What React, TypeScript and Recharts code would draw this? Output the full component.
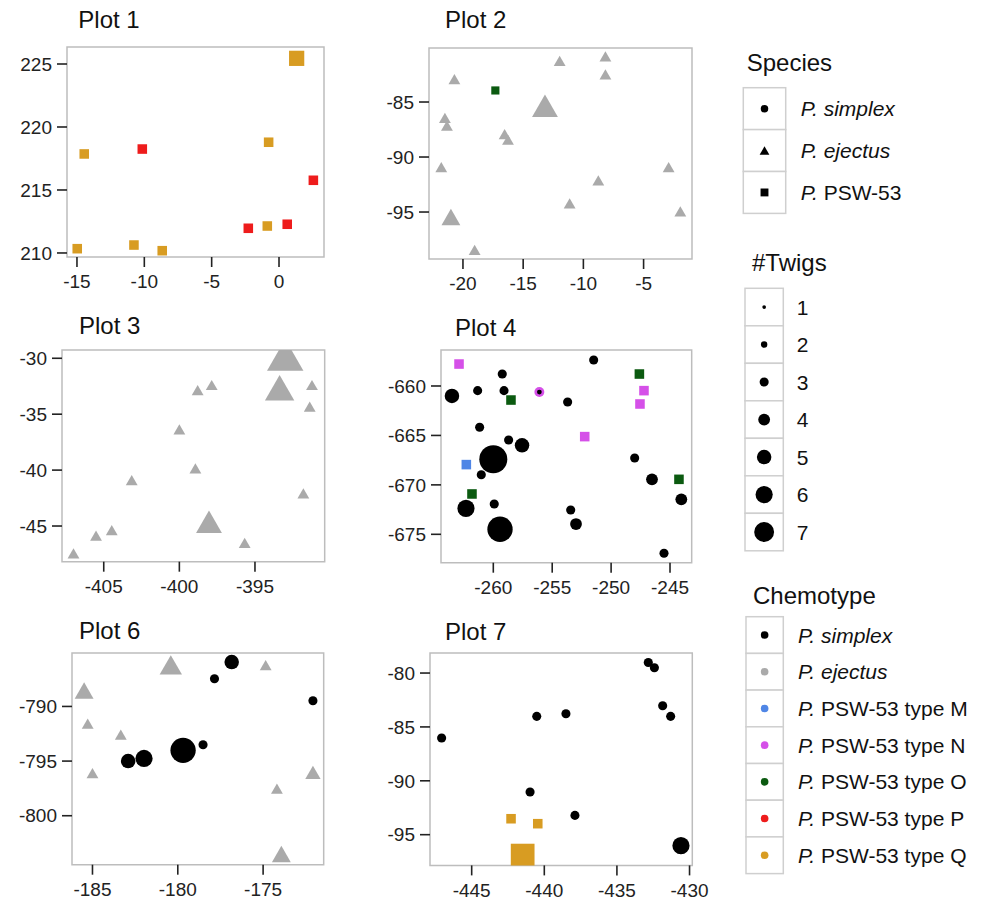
import React from 'react';
import { ScatterChart, Scatter, XAxis, YAxis, ReferenceArea } from 'recharts';

type Pt = { x: number; y: number; sp: 'S' | 'E' | 'P'; chem: string; twigs: number };

const COLORS: Record<string, string> = {
  simplex: '#000000',
  ejectus: '#aaaaaa',
  M: '#4f86e6',
  N: '#d550e8',
  O: '#0b5a10',
  P: '#ee1c1c',
  Q: '#d89c22',
};

// ---------- data ----------
const plot1Points: Pt[] = [
  { x: 1.31, y: 225.45, sp: 'P', chem: 'Q', twigs: 5 },
  { x: -14.46, y: 217.86, sp: 'P', chem: 'Q', twigs: 3 },
  { x: -10.15, y: 218.25, sp: 'P', chem: 'P', twigs: 3 },
  { x: -0.77, y: 218.79, sp: 'P', chem: 'Q', twigs: 3 },
  { x: 2.55, y: 215.77, sp: 'P', chem: 'P', twigs: 3 },
  { x: -2.28, y: 211.96, sp: 'P', chem: 'P', twigs: 3 },
  { x: -0.87, y: 212.14, sp: 'P', chem: 'Q', twigs: 3 },
  { x: 0.61, y: 212.28, sp: 'P', chem: 'P', twigs: 3 },
  { x: -14.98, y: 210.34, sp: 'P', chem: 'Q', twigs: 3 },
  { x: -10.77, y: 210.63, sp: 'P', chem: 'Q', twigs: 3 },
  { x: -8.67, y: 210.18, sp: 'P', chem: 'Q', twigs: 3 },
];

const plot2Points: Pt[] = [
  { x: -11.97, y: -81.25, sp: 'E', chem: 'ejectus', twigs: 3 },
  { x: -8.17, y: -80.85, sp: 'E', chem: 'ejectus', twigs: 3 },
  { x: -8.17, y: -82.49, sp: 'E', chem: 'ejectus', twigs: 3 },
  { x: -20.71, y: -82.91, sp: 'E', chem: 'ejectus', twigs: 3 },
  { x: -13.19, y: -85.34, sp: 'E', chem: 'ejectus', twigs: 7 },
  { x: -21.5, y: -86.45, sp: 'E', chem: 'ejectus', twigs: 3 },
  { x: -21.33, y: -87.15, sp: 'E', chem: 'ejectus', twigs: 3 },
  { x: -16.54, y: -87.91, sp: 'E', chem: 'ejectus', twigs: 3 },
  { x: -16.26, y: -88.43, sp: 'E', chem: 'ejectus', twigs: 3 },
  { x: -21.8, y: -90.91, sp: 'E', chem: 'ejectus', twigs: 3 },
  { x: -2.92, y: -90.91, sp: 'E', chem: 'ejectus', twigs: 3 },
  { x: -8.76, y: -92.12, sp: 'E', chem: 'ejectus', twigs: 3 },
  { x: -11.14, y: -94.21, sp: 'E', chem: 'ejectus', twigs: 3 },
  { x: -1.95, y: -94.94, sp: 'E', chem: 'ejectus', twigs: 3 },
  { x: -21.0, y: -95.45, sp: 'E', chem: 'ejectus', twigs: 5 },
  { x: -19.03, y: -98.43, sp: 'E', chem: 'ejectus', twigs: 3 },
  { x: -17.31, y: -83.95, sp: 'P', chem: 'O', twigs: 2.5 },
];

const plot3Points: Pt[] = [
  { x: -393.0, y: -29.7, sp: 'E', chem: 'ejectus', twigs: 10 },
  { x: -393.37, y: -32.64, sp: 'E', chem: 'ejectus', twigs: 8 },
  { x: -391.23, y: -32.39, sp: 'E', chem: 'ejectus', twigs: 3 },
  { x: -391.38, y: -34.33, sp: 'E', chem: 'ejectus', twigs: 3 },
  { x: -397.86, y: -32.39, sp: 'E', chem: 'ejectus', twigs: 3 },
  { x: -398.79, y: -32.84, sp: 'E', chem: 'ejectus', twigs: 3 },
  { x: -400.0, y: -36.35, sp: 'E', chem: 'ejectus', twigs: 3 },
  { x: -398.94, y: -39.84, sp: 'E', chem: 'ejectus', twigs: 3 },
  { x: -403.15, y: -40.89, sp: 'E', chem: 'ejectus', twigs: 3 },
  { x: -391.8, y: -42.08, sp: 'E', chem: 'ejectus', twigs: 3 },
  { x: -398.04, y: -44.62, sp: 'E', chem: 'ejectus', twigs: 7 },
  { x: -404.47, y: -45.36, sp: 'E', chem: 'ejectus', twigs: 3 },
  { x: -405.51, y: -45.87, sp: 'E', chem: 'ejectus', twigs: 3 },
  { x: -395.68, y: -46.5, sp: 'E', chem: 'ejectus', twigs: 3 },
  { x: -407.0, y: -47.45, sp: 'E', chem: 'ejectus', twigs: 3 },
];

const plot4Points: Pt[] = [
  { x: -251.48, y: -657.37, sp: 'S', chem: 'simplex', twigs: 3 },
  { x: -259.24, y: -658.79, sp: 'S', chem: 'simplex', twigs: 3 },
  { x: -263.51, y: -661.01, sp: 'S', chem: 'simplex', twigs: 5 },
  { x: -261.33, y: -660.47, sp: 'S', chem: 'simplex', twigs: 3 },
  { x: -259.09, y: -660.47, sp: 'S', chem: 'simplex', twigs: 3 },
  { x: -253.69, y: -661.62, sp: 'S', chem: 'simplex', twigs: 3 },
  { x: -261.16, y: -664.18, sp: 'S', chem: 'simplex', twigs: 3 },
  { x: -258.7, y: -665.46, sp: 'S', chem: 'simplex', twigs: 3 },
  { x: -257.56, y: -666.0, sp: 'S', chem: 'simplex', twigs: 5 },
  { x: -260.0, y: -667.41, sp: 'S', chem: 'simplex', twigs: 10 },
  { x: -248.0, y: -667.28, sp: 'S', chem: 'simplex', twigs: 3 },
  { x: -261.02, y: -668.97, sp: 'S', chem: 'simplex', twigs: 3 },
  { x: -246.53, y: -669.44, sp: 'S', chem: 'simplex', twigs: 4 },
  { x: -244.04, y: -671.46, sp: 'S', chem: 'simplex', twigs: 4 },
  { x: -259.92, y: -671.93, sp: 'S', chem: 'simplex', twigs: 3 },
  { x: -262.32, y: -672.37, sp: 'S', chem: 'simplex', twigs: 6 },
  { x: -253.43, y: -672.54, sp: 'S', chem: 'simplex', twigs: 3 },
  { x: -252.98, y: -673.96, sp: 'S', chem: 'simplex', twigs: 4 },
  { x: -259.43, y: -674.49, sp: 'S', chem: 'simplex', twigs: 9 },
  { x: -245.51, y: -676.92, sp: 'S', chem: 'simplex', twigs: 3 },
  { x: -256.09, y: -660.61, sp: 'S', chem: 'N', twigs: 3.3 },
  { x: -256.09, y: -660.61, sp: 'S', chem: 'simplex', twigs: 1.4 },
  { x: -262.91, y: -657.78, sp: 'P', chem: 'N', twigs: 3 },
  { x: -247.6, y: -658.79, sp: 'P', chem: 'O', twigs: 3 },
  { x: -258.5, y: -661.42, sp: 'P', chem: 'O', twigs: 3 },
  { x: -247.21, y: -660.47, sp: 'P', chem: 'N', twigs: 3 },
  { x: -247.55, y: -661.82, sp: 'P', chem: 'N', twigs: 3 },
  { x: -252.24, y: -665.12, sp: 'P', chem: 'N', twigs: 3 },
  { x: -262.29, y: -667.95, sp: 'P', chem: 'M', twigs: 3 },
  { x: -244.24, y: -669.44, sp: 'P', chem: 'O', twigs: 3 },
  { x: -261.81, y: -670.92, sp: 'P', chem: 'O', twigs: 3 },
];

const plot6Points: Pt[] = [
  { x: -180.41, y: -786.2, sp: 'E', chem: 'ejectus', twigs: 6 },
  { x: -174.85, y: -786.21, sp: 'E', chem: 'ejectus', twigs: 3 },
  { x: -185.49, y: -788.54, sp: 'E', chem: 'ejectus', twigs: 5 },
  { x: -185.28, y: -791.58, sp: 'E', chem: 'ejectus', twigs: 3 },
  { x: -183.34, y: -792.59, sp: 'E', chem: 'ejectus', twigs: 3 },
  { x: -185.0, y: -796.1, sp: 'E', chem: 'ejectus', twigs: 3 },
  { x: -172.08, y: -796.04, sp: 'E', chem: 'ejectus', twigs: 4 },
  { x: -174.19, y: -797.53, sp: 'E', chem: 'ejectus', twigs: 3 },
  { x: -173.93, y: -803.5, sp: 'E', chem: 'ejectus', twigs: 5 },
  { x: -176.84, y: -785.94, sp: 'S', chem: 'simplex', twigs: 5 },
  { x: -177.85, y: -787.46, sp: 'S', chem: 'simplex', twigs: 3 },
  { x: -172.08, y: -789.48, sp: 'S', chem: 'simplex', twigs: 3 },
  { x: -178.52, y: -793.5, sp: 'S', chem: 'simplex', twigs: 3 },
  { x: -179.69, y: -794.02, sp: 'S', chem: 'simplex', twigs: 9 },
  { x: -181.98, y: -794.76, sp: 'S', chem: 'simplex', twigs: 6 },
  { x: -182.91, y: -795.0, sp: 'S', chem: 'simplex', twigs: 5 },
];

const plot7Points: Pt[] = [
  { x: -432.84, y: -79.02, sp: 'S', chem: 'simplex', twigs: 3 },
  { x: -432.42, y: -79.51, sp: 'S', chem: 'simplex', twigs: 3 },
  { x: -431.85, y: -83.03, sp: 'S', chem: 'simplex', twigs: 3 },
  { x: -431.3, y: -84.02, sp: 'S', chem: 'simplex', twigs: 3 },
  { x: -440.52, y: -84.02, sp: 'S', chem: 'simplex', twigs: 3 },
  { x: -438.51, y: -83.78, sp: 'S', chem: 'simplex', twigs: 3 },
  { x: -447.07, y: -86.03, sp: 'S', chem: 'simplex', twigs: 3 },
  { x: -440.98, y: -91.04, sp: 'S', chem: 'simplex', twigs: 3 },
  { x: -437.89, y: -93.21, sp: 'S', chem: 'simplex', twigs: 3 },
  { x: -430.59, y: -96.02, sp: 'S', chem: 'simplex', twigs: 6 },
  { x: -442.29, y: -93.52, sp: 'P', chem: 'Q', twigs: 3 },
  { x: -440.45, y: -93.98, sp: 'P', chem: 'Q', twigs: 3 },
  { x: -441.49, y: -96.94, sp: 'P', chem: 'Q', twigs: 8 },
];

const plot1XTicks = [-15, -10, -5, 0];
const plot1YTicks = [210, 215, 220, 225];
const plot2XTicks = [-20, -15, -10, -5];
const plot2YTicks = [-95, -90, -85];
const plot3XTicks = [-405, -400, -395];
const plot3YTicks = [-45, -40, -35, -30];
const plot4XTicks = [-260, -255, -250, -245];
const plot4YTicks = [-675, -670, -665, -660];
const plot6XTicks = [-185, -180, -175];
const plot6YTicks = [-800, -795, -790];
const plot7XTicks = [-445, -440, -435, -430];
const plot7YTicks = [-95, -90, -85, -80];

const speciesLabels = [
  { it: 'P. simplex', rest: '' },
  { it: 'P. ejectus', rest: '' },
  { it: 'P.', rest: ' PSW-53' },
];
const speciesKeys: Array<'S' | 'E' | 'P'> = ['S', 'E', 'P'];
const twigLevels = [1, 2, 3, 4, 5, 6, 7];
const chemKeys = ['simplex', 'ejectus', 'M', 'N', 'O', 'P', 'Q'];
const chemLabels = [
  { it: 'P. simplex', rest: '' },
  { it: 'P. ejectus', rest: '' },
  { it: 'P.', rest: ' PSW-53 type M' },
  { it: 'P.', rest: ' PSW-53 type N' },
  { it: 'P.', rest: ' PSW-53 type O' },
  { it: 'P.', rest: ' PSW-53 type P' },
  { it: 'P.', rest: ' PSW-53 type Q' },
];

// ---------- drawing helpers ----------
const FONT = '"Liberation Sans", Arial, Helvetica, sans-serif';
const sizeOf = (t: number) => 2.7 * t + 1;

function glyph(sp: string, cx: number, cy: number, d: number, fill: string, key?: string) {
  if (sp === 'E') {
    const w = d * 1.3;
    const h = w * 0.866;
    return (
      <polygon
        key={key}
        points={`${cx},${cy - h / 2} ${cx + w / 2},${cy + h / 2} ${cx - w / 2},${cy + h / 2}`}
        fill={fill}
      />
    );
  }
  if (sp === 'P') {
    const s = d * 1.05;
    return <rect key={key} x={cx - s / 2} y={cy - s / 2} width={s} height={s} fill={fill} />;
  }
  return <circle key={key} cx={cx} cy={cy} r={d / 2} fill={fill} />;
}

function Marker(props: any) {
  const { cx, cy } = props;
  const p = props.payload ?? props;
  if (cx == null || cy == null || !p) return null;
  return glyph(p.sp, cx, cy, sizeOf(p.twigs), COLORS[p.chem]);
}

type Box = { l: number; t: number; r: number; b: number };

function Panel({
  box,
  data,
  xDomain,
  yDomain,
  xTicks,
  yTicks,
}: {
  box: Box;
  data: Pt[];
  xDomain: [number, number];
  yDomain: [number, number];
  xTicks: number[];
  yTicks: number[];
}) {
  const yw = 64;
  const xh = 44;
  const mt = 12;
  const mr = 24;
  const w = yw + (box.r - box.l) + mr;
  const h = mt + (box.b - box.t) + xh;
  const tickStyle = { fontSize: 19, fill: '#222', fontFamily: FONT };
  return (
    <div style={{ position: 'absolute', left: box.l - yw, top: box.t - mt }}>
      <ScatterChart width={w} height={h} margin={{ top: mt, right: mr, bottom: 0, left: 0 }}>
        <XAxis
          type="number"
          dataKey="x"
          domain={xDomain}
          ticks={xTicks}
          allowDataOverflow
          interval={0}
          height={xh}
          tickSize={10}
          tickMargin={8}
          axisLine={false}
          tickLine={{ stroke: '#222', strokeWidth: 1.6 }}
          tick={tickStyle}
        />
        <YAxis
          type="number"
          dataKey="y"
          domain={yDomain}
          ticks={yTicks}
          allowDataOverflow
          interval={0}
          width={yw}
          tickSize={10}
          tickMargin={5}
          axisLine={false}
          tickLine={{ stroke: '#222', strokeWidth: 1.6 }}
          tick={tickStyle}
        />
        <ReferenceArea
          x1={xDomain[0]}
          x2={xDomain[1]}
          y1={yDomain[0]}
          y2={yDomain[1]}
          fill="none"
          fillOpacity={0}
          stroke="#bdbdbd"
          strokeWidth={1.5}
          ifOverflow="visible"
        />
        <Scatter data={data} shape={(p: any) => <Marker {...p} />} isAnimationActive={false} />
      </ScatterChart>
    </div>
  );
}

function Label({ x, y, it, rest, size }: { x: number; y: number; it: string; rest: string; size: number }) {
  return (
    <text x={x} y={y} fontSize={size} fill="#111" fontFamily={FONT}>
      <tspan fontStyle="italic">{it}</tspan>
      {rest ? <tspan>{rest}</tspan> : null}
    </text>
  );
}

function KeyCells({ x, y, w, rowH, n }: { x: number; y: number; w: number; rowH: number; n: number }) {
  const cells = [];
  for (let i = 0; i < n; i++) {
    cells.push(
      <rect key={i} x={x} y={y + i * rowH} width={w} height={rowH} fill="#fff" stroke="#cfcfcf" strokeWidth={1.5} />
    );
  }
  return <g>{cells}</g>;
}

function Legends() {
  const sp = { x: 743.3, y: 87.7, w: 42.4, rowH: 41.9 };
  const tw = { x: 745, y: 288.3, w: 38.3, rowH: 37.5 };
  const ch = { x: 746, y: 616.7, w: 37.3, rowH: 36.7 };
  return (
    <svg width={987} height={904} style={{ position: 'absolute', left: 0, top: 0 }}>
      {/* plot titles */}
      <text x={78.3} y={28.3} fontSize={24} fontFamily={FONT} fill="#111">Plot 1</text>
      <text x={445} y={28.3} fontSize={24} fontFamily={FONT} fill="#111">Plot 2</text>
      <text x={79} y={334} fontSize={24} fontFamily={FONT} fill="#111">Plot 3</text>
      <text x={455} y={336} fontSize={24} fontFamily={FONT} fill="#111">Plot 4</text>
      <text x={79} y={638.5} fontSize={24} fontFamily={FONT} fill="#111">Plot 6</text>
      <text x={445} y={640} fontSize={24} fontFamily={FONT} fill="#111">Plot 7</text>

      {/* Species */}
      <text x={746.7} y={70.7} fontSize={24} fontFamily={FONT} fill="#111">Species</text>
      <KeyCells x={sp.x} y={sp.y} w={sp.w} rowH={sp.rowH} n={speciesKeys.length} />
      {speciesKeys.map((k, i) =>
        glyph(k, sp.x + sp.w / 2, sp.y + sp.rowH * (i + 0.5), 7.5, '#000', 'sg' + i)
      )}
      {speciesLabels.map((l, i) => (
        <Label key={'sl' + i} x={800.7} y={sp.y + sp.rowH * (i + 0.5) + 7.5} it={l.it} rest={l.rest} size={21} />
      ))}

      {/* Twigs */}
      <text x={752} y={270.5} fontSize={24} fontFamily={FONT} fill="#111">#Twigs</text>
      <KeyCells x={tw.x} y={tw.y} w={tw.w} rowH={tw.rowH} n={twigLevels.length} />
      {twigLevels.map((t, i) => (
        <circle key={'tc' + i} cx={tw.x + tw.w / 2} cy={tw.y + tw.rowH * (i + 0.5)} r={sizeOf(t) / 2} fill="#000" />
      ))}
      {twigLevels.map((t, i) => (
        <text key={'tl' + i} x={796.7} y={tw.y + tw.rowH * (i + 0.5) + 7.5} fontSize={21} fontFamily={FONT} fill="#111">
          {t}
        </text>
      ))}

      {/* Chemotype */}
      <text x={753} y={603.5} fontSize={24} fontFamily={FONT} fill="#111">Chemotype</text>
      <KeyCells x={ch.x} y={ch.y} w={ch.w} rowH={ch.rowH} n={chemKeys.length} />
      {chemKeys.map((k, i) => (
        <circle key={'cc' + i} cx={ch.x + ch.w / 2} cy={ch.y + ch.rowH * (i + 0.5)} r={3.8} fill={COLORS[k]} />
      ))}
      {chemLabels.map((l, i) => (
        <Label key={'cl' + i} x={798} y={ch.y + ch.rowH * (i + 0.5) + 7.5} it={l.it} rest={l.rest} size={21} />
      ))}
    </svg>
  );
}

export default function App() {
  return (
    <div
      style={{
        position: 'absolute',
        left: 0,
        top: 0,
        width: 987,
        height: 904,
        background: '#fff',
        fontFamily: FONT,
        overflow: 'hidden',
      }}
    >
      <Legends />
      <Panel box={{ l: 67, t: 47, r: 324, b: 257 }} data={plot1Points} xDomain={[-15.74, 3.34]} yDomain={[209.68, 226.35]} xTicks={plot1XTicks} yTicks={plot1YTicks} />
      <Panel box={{ l: 429.3, t: 48.3, r: 692.3, b: 259.3 }} data={plot2Points} xDomain={[-22.82, -0.98]} yDomain={[-99.27, -80.09]} xTicks={plot2XTicks} yTicks={plot2YTicks} />
      <Panel box={{ l: 62.3, t: 350, r: 325, b: 561.7 }} data={plot3Points} xDomain={[-407.76, -390.39]} yDomain={[-48.19, -29.26]} xTicks={plot3XTicks} yTicks={plot3YTicks} />
      <Panel box={{ l: 441, t: 350, r: 691.7, b: 562.7 }} data={plot4Points} xDomain={[-264.44, -243.16]} yDomain={[-677.87, -656.36]} xTicks={plot4XTicks} yTicks={plot4YTicks} />
      <Panel box={{ l: 72.3, t: 653.3, r: 324, b: 865 }} data={plot6Points} xDomain={[-186.2, -171.45]} yDomain={[-804.48, -785.11]} xTicks={plot6XTicks} yTicks={plot6YTicks} />
      <Panel box={{ l: 430, t: 653.3, r: 692.3, b: 865.7 }} data={plot7Points} xDomain={[-447.87, -429.81]} yDomain={[-97.85, -78.14]} xTicks={plot7XTicks} yTicks={plot7YTicks} />
    </div>
  );
}
